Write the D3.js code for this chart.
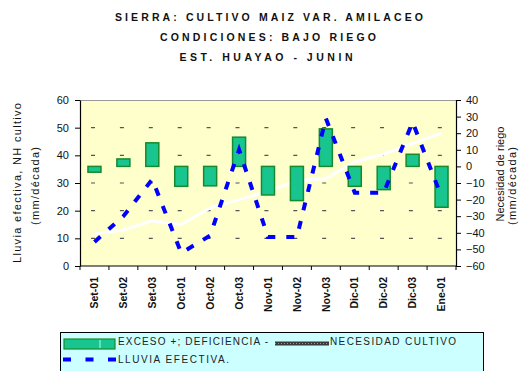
<!DOCTYPE html>
<html>
<head>
<meta charset="utf-8">
<script src="https://cdn.jsdelivr.net/npm/d3@7"></script>
<style>
  html, body { margin: 0; padding: 0; background: #ffffff; }
  svg { display: block; font-family: "Liberation Sans", Arial, sans-serif; }
</style>
</head>
<body>
<svg id="chart" width="522" height="371"></svg>
<script>
// Decades of the growing season
const categories = ["Set-01", "Set-02", "Set-03", "Oct-01", "Oct-02", "Oct-03",
  "Nov-01", "Nov-02", "Nov-03", "Dic-01", "Dic-02", "Dic-03", "Ene-01"];
// Effective rainfall (mm/década), left axis
const lluviaEfectiva = [8.7, 18, 31.3, 4.7, 11, 42, 10.5, 10.5, 53.4, 26.5, 26.5, 52, 25];
// Crop water requirement (mm/década), left axis
const necesidadCultivo = [11.7, 13, 16.3, 15, 21, 24, 27, 31, 31.5, 37.7, 40.5, 44.3, 48];
// Excess (+) / deficiency (-) (mm/década), right axis
const excesoDeficiencia = [-3.5, 4.5, 14.2, -12, -11.7, 17.6, -17.2, -20.6, 22.6, -12, -14, 7.3, -24.6];
// Axis ticks
const leftTicks = [0, 10, 20, 30, 40, 50, 60];
const rightTicks = [40, 30, 20, 10, 0, -10, -20, -30, -40, -50, -60];
const titleLines = ["SIERRA: CULTIVO MAIZ VAR. AMILACEO", "CONDICIONES: BAJO RIEGO", "EST. HUAYAO - JUNIN"];

const svg = d3.select("#chart");
const plot = { left: 80, right: 456, top: 100, bottom: 266 };

const x = d3.scaleBand().domain(categories).range([plot.left, plot.right]).padding(0);
const yL = d3.scaleLinear().domain([0, 60]).range([plot.bottom, plot.top]);
const yR = d3.scaleLinear().domain([-60, 40]).range([plot.bottom, plot.top]);
const bw = x.bandwidth();

// Title
const titleY = [21, 41, 61];
const titleLen = [308, 216, 173];
const titleX = [269, 268, 266];
titleLines.forEach((t, i) => {
  svg.append("text")
    .attr("x", titleX[i]).attr("y", titleY[i])
    .attr("text-anchor", "middle")
    .attr("font-size", 10.5).attr("font-weight", "bold")
    .attr("fill", "#111")
    .attr("textLength", titleLen[i]).attr("lengthAdjust", "spacing")
    .text(t);
});

// Plot background
svg.append("rect")
  .attr("x", plot.left).attr("y", plot.top)
  .attr("width", plot.right - plot.left).attr("height", plot.bottom - plot.top)
  .attr("fill", "#ffffcc");

// Dashed gridlines
svg.append("g").selectAll("line")
  .data(leftTicks.filter(d => d > 0 && d < 60))
  .join("line")
  .attr("x1", plot.left).attr("x2", plot.right)
  .attr("y1", d => yL(d)).attr("y2", d => yL(d))
  .attr("stroke", "#555").attr("stroke-width", 1.2)
  .attr("stroke-dasharray", "4,24.9")
  .attr("stroke-dashoffset", -11);

// Top border
svg.append("line")
  .attr("x1", plot.left).attr("x2", plot.right)
  .attr("y1", plot.top + 0.5).attr("y2", plot.top + 0.5)
  .attr("stroke", "#999").attr("stroke-width", 1);

// Crop requirement line (white)
const lineL = d3.line()
  .x((d, i) => x(categories[i]) + bw / 2)
  .y(d => yL(d));
svg.append("path")
  .datum(necesidadCultivo)
  .attr("d", lineL)
  .attr("fill", "none")
  .attr("stroke", "#ffffff").attr("stroke-width", 3);

// Excess / deficiency bars
const barW = 13;
svg.append("g").selectAll("rect")
  .data(excesoDeficiencia)
  .join("rect")
  .attr("x", (d, i) => x(categories[i]) + bw / 2 - barW / 2)
  .attr("y", d => yR(Math.max(0, d)))
  .attr("width", barW)
  .attr("height", d => Math.abs(yR(d) - yR(0)))
  .attr("fill", "#19c58f")
  .attr("stroke", "#168a2c").attr("stroke-width", 1.5);

// Effective rainfall (blue dashed)
svg.append("path")
  .datum(lluviaEfectiva)
  .attr("d", lineL)
  .attr("fill", "none")
  .attr("stroke", "#0000ff").attr("stroke-width", 4)
  .attr("stroke-dasharray", "8,11");

// Left axis
const axL = svg.append("g")
  .attr("transform", `translate(${plot.left},0)`)
  .call(d3.axisLeft(yL).tickValues(leftTicks).tickSize(5).tickSizeOuter(0).tickPadding(6));
// Right axis
const axR = svg.append("g")
  .attr("transform", `translate(${plot.right},0)`)
  .call(d3.axisRight(yR).tickValues(rightTicks).tickSize(5).tickSizeOuter(0).tickPadding(5));
[axL, axR].forEach(a => {
  a.selectAll("text").attr("font-size", 11).attr("font-family", "Liberation Sans, Arial, sans-serif").attr("fill", "#111");
  a.selectAll("line").attr("stroke", "#000");
  a.select(".domain").attr("stroke", "#000").attr("stroke-width", 1.2);
});

// Category axis
svg.append("line")
  .attr("x1", plot.left).attr("x2", plot.right)
  .attr("y1", plot.bottom).attr("y2", plot.bottom)
  .attr("stroke", "#000").attr("stroke-width", 1.2);
svg.append("g").selectAll("line")
  .data(d3.range(categories.length + 1))
  .join("line")
  .attr("x1", i => plot.left + i * bw).attr("x2", i => plot.left + i * bw)
  .attr("y1", plot.bottom).attr("y2", plot.bottom + 4)
  .attr("stroke", "#000");
svg.append("g").selectAll("text")
  .data(categories)
  .join("text")
  .attr("transform", d => `translate(${x(d) + bw / 2},277) rotate(-90)`)
  .attr("text-anchor", "end")
  .attr("dy", "0.35em")
  .attr("font-size", 10.5).attr("font-weight", "bold").attr("fill", "#111")
  .text(d => d);

// Axis titles
function vTitle(txt, cx, cy, len) {
  svg.append("text")
    .attr("transform", `translate(${cx},${cy}) rotate(-90)`)
    .attr("text-anchor", "middle").attr("dy", "0.35em")
    .attr("font-size", 11).attr("fill", "#111")
    .attr("textLength", len).attr("lengthAdjust", "spacing")
    .text(txt);
}
vTitle("Lluvia efectiva, NH cultivo", 17, 183, 160);
vTitle("(mm/década)", 35, 186, 78);
vTitle("Necesidad de riego", 500, 174, 95);
vTitle("(mm/década)", 512, 186, 78);

// Legend
const lg = svg.append("g");
lg.append("rect")
  .attr("x", 60.5).attr("y", 332.5).attr("width", 423).attr("height", 45)
  .attr("fill", "#ccffff").attr("stroke", "#000").attr("stroke-width", 1);
lg.append("rect")
  .attr("x", 64).attr("y", 339).attr("width", 51).attr("height", 10)
  .attr("fill", "#19c58f").attr("stroke", "#168a2c").attr("stroke-width", 1.2);
lg.append("line")
  .attr("x1", 100).attr("x2", 100).attr("y1", 340).attr("y2", 348)
  .attr("stroke", "#aaffff").attr("stroke-width", 1);
lg.append("text").attr("x", 118).attr("y", 345)
  .attr("font-size", 10).attr("fill", "#222")
  .attr("textLength", 150).attr("lengthAdjust", "spacing")
  .text("EXCESO +; DEFICIENCIA -");
lg.append("rect")
  .attr("x", 275).attr("y", 341.5).attr("width", 54).attr("height", 4)
  .attr("fill", "#3a3a3a");
lg.append("line")
  .attr("x1", 275).attr("x2", 329).attr("y1", 343.5).attr("y2", 343.5)
  .attr("stroke", "#9a9a9a").attr("stroke-width", 1).attr("stroke-dasharray", "1,2");
lg.append("text").attr("x", 330).attr("y", 345)
  .attr("font-size", 10).attr("fill", "#222")
  .attr("textLength", 126).attr("lengthAdjust", "spacing")
  .text("NECESIDAD CULTIVO");
lg.append("line")
  .attr("x1", 63).attr("x2", 116).attr("y1", 359.5).attr("y2", 359.5)
  .attr("stroke", "#0000ff").attr("stroke-width", 4)
  .attr("stroke-dasharray", "8,14.5");
lg.append("text").attr("x", 118).attr("y", 363)
  .attr("font-size", 10).attr("fill", "#222")
  .attr("textLength", 111).attr("lengthAdjust", "spacing")
  .text("LLUVIA EFECTIVA.");
</script>
</body>
</html>
